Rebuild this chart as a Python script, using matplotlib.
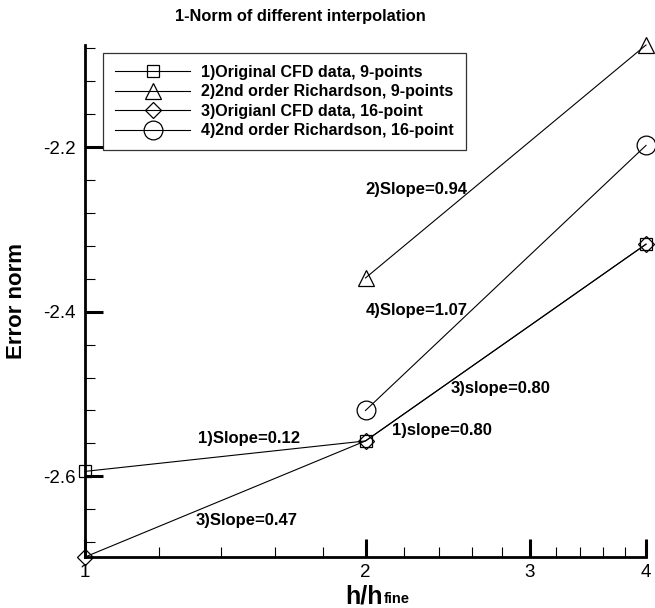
import matplotlib.pyplot as plt
from matplotlib.ticker import FixedLocator, NullFormatter, MultipleLocator

plt.rcParams['font.family'] = ['Liberation Sans', 'DejaVu Sans']

# h/h_fine ratios and log10 error norms
h_all = [1, 2, 4]
h_rich = [2, 4]
orig_9pt = [-2.594, -2.557, -2.318]
rich_9pt = [-2.359, -2.076]
orig_16pt = [-2.698, -2.557, -2.318]
rich_16pt = [-2.520, -2.198]

labels = ['1)Original CFD data, 9-points',
          '2)2nd order Richardson, 9-points',
          '3)Origianl CFD data, 16-point',
          '4)2nd order Richardson, 16-point']

# slope annotations (text, x, y)
slope_notes = [('2)Slope=0.94', 2.266, -2.251),
               ('4)Slope=1.07', 2.27, -2.398),
               ('3)slope=0.80', 2.795, -2.493),
               ('1)slope=0.80', 2.416, -2.544),
               ('1)Slope=0.12', 1.50, -2.554),
               ('3)Slope=0.47', 1.49, -2.654)]

fig = plt.figure(figsize=(6.55, 6.08), dpi=100)
ax = fig.add_axes([85 / 655, 51 / 608, 561 / 655, 512 / 608])

style = dict(color='black', lw=0.8, mfc='none', mec='black', mew=0.9, clip_on=False)
ax.plot(h_all, orig_9pt, marker='s', ms=8.5, label=labels[0], **style)
ax.plot(h_rich, rich_9pt, marker='^', ms=12, label=labels[1], **style)
ax.plot(h_all, orig_16pt, marker='D', ms=8.5, label=labels[2], **style)
ax.plot(h_rich, rich_16pt, marker='o', ms=13.5, label=labels[3], **style)

for txt, x, y in slope_notes:
    ax.text(x, y, txt, ha='center', va='center', fontsize=12, fontweight='bold')

ax.set_xscale('log')
ax.set_xlim(1, 4)
ax.set_ylim(-2.698, -2.076)

ax.xaxis.set_major_locator(FixedLocator([1, 2, 3, 4]))
ax.xaxis.set_minor_locator(FixedLocator([1.2, 1.4, 1.6, 1.8, 2.2, 2.4, 2.6, 2.8,
                                         3.2, 3.4, 3.6, 3.8]))
ax.xaxis.set_minor_formatter(NullFormatter())
ax.set_xticklabels(['1', '2', '3', '4'])
ax.yaxis.set_major_locator(FixedLocator([-2.6, -2.4, -2.2]))
ax.yaxis.set_minor_locator(MultipleLocator(0.04))
ax.set_yticklabels(['-2.6', '-2.4', '-2.2'])

ax.tick_params(which='major', direction='in', length=13, width=2.2, labelsize=13.5, pad=7)
ax.tick_params(which='minor', direction='in', length=7, width=0.8)
ax.tick_params(axis='x', which='major', pad=5)

for s in ['top', 'right']:
    ax.spines[s].set_visible(False)
for s in ['left', 'bottom']:
    ax.spines[s].set_linewidth(2)

fig.text(300 / 655, 1 - 17 / 608, '1-Norm of different interpolation',
         ha='center', va='center', fontsize=11.8, fontweight='bold')
fig.text(17 / 655, 1 - 301 / 608, 'Error norm', rotation=90,
         ha='center', va='center', fontsize=16, fontweight='bold')
fig.text(383 / 655, 1 - 603 / 608, 'h/h', ha='right', va='baseline',
         fontsize=18, fontweight='bold')
fig.text(384 / 655, 1 - 603 / 608, 'fine', ha='left', va='baseline',
         fontsize=10.5, fontweight='bold')

leg = ax.legend(loc='upper left', bbox_to_anchor=(103 / 655, 1 - 53 / 608),
                bbox_transform=fig.transFigure, borderaxespad=0,
                handlelength=4.7, handletextpad=0.7,
                labelspacing=0.28, borderpad=0.75, fancybox=False,
                frameon=True, prop={'weight': 'bold', 'size': 11.5})
leg.get_frame().set_edgecolor('black')
leg.get_frame().set_linewidth(0.9)

plt.savefig('out.png', dpi=100)
